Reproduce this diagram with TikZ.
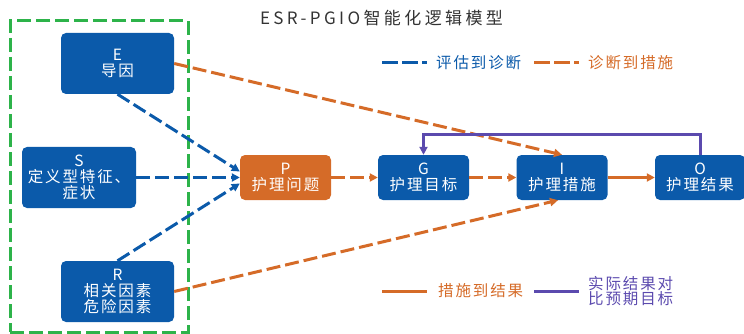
\documentclass[tikz,border=0pt]{standalone}
\usepackage{fontspec}
\setmainfont{Noto Sans CJK SC}
\newfontfamily\cjksp[LetterSpace=12]{Noto Sans CJK SC}
\newfontfamily\cjktitle[LetterSpace=20]{Noto Sans CJK SC}
\usetikzlibrary{arrows.meta}
\definecolor{cblue}{HTML}{0B5AAA}
\definecolor{corange}{HTML}{D56B28}
\definecolor{cpurple}{HTML}{5B4AAE}
\definecolor{cgreen}{HTML}{2DB34A}
\definecolor{ctitle}{HTML}{333333}
\newcommand\fntbox{\cjksp\fontsize{15.5}{16}\selectfont}
\newcommand\fntleg{\cjksp\fontsize{15.5}{15}\selectfont}
\newcommand\fnttitle{\cjktitle\fontsize{17}{20}\selectfont}
\begin{document}
\begin{tikzpicture}[x=1pt,y=-1pt,
  box/.style={rounded corners=5pt,inner sep=0pt,align=center,text=white,font=\fntbox},
  bigbox/.style={box,fill=cblue,minimum width=113pt,minimum height=61pt},
  smallbox/.style={box,fill=cblue,minimum width=91pt,minimum height=45pt},
  dline/.style={line width=3pt,dash pattern=on 14pt off 5pt},
  sline/.style={line width=3pt},
  tip/.style={-{Triangle[length=8pt,width=8pt]}},
  legtxt/.style={anchor=west,inner sep=0pt,align=left,font=\fntleg},
  legdash/.style={line width=3pt,dash pattern=on 16pt off 4pt},
]
\useasboundingbox (0,0) rectangle (744,334);
% group frame
\node[draw=cgreen,line width=3pt,dash pattern=on 14pt off 5pt,minimum width=178pt,minimum height=311pt,inner sep=0pt] (grp) at (99,176.5) {};
% title
\node[font=\fnttitle,text=ctitle,inner sep=0pt] (title) at (381.5,18) {ESR-PGIO智能化逻辑模型};
% boxes
\node[bigbox] (E) at (117.5,63.5) {E\\导因};
\node[bigbox,minimum width=114pt] (S) at (79,177.5) {S\\定义型特征、\\症状};
\node[bigbox] (R) at (117.5,291.5) {R\\相关因素\\危险因素};
\node[smallbox,fill=corange] (P) at (285.5,177.5) {P\\护理问题};
\node[smallbox] (G) at (423.5,177.5) {G\\护理目标};
\node[smallbox] (I) at (562,177.5) {I\\护理措施};
\node[smallbox,minimum width=90pt] (O) at (700,177.5) {O\\护理结果};
% connectors
\draw[dline,cblue,tip] (E.south) -- ([yshift=6pt]P.west);
\draw[dline,cblue,tip] (S.east) -- (P.west);
\draw[dline,cblue,tip] (R.north) -- ([yshift=-6pt]P.west);
\draw[dline,corange,tip] (E.east) -- (I.north);
\draw[dline,corange,tip] (R.east) -- ([xshift=-4pt]I.south);
\draw[dline,corange,tip] (P.east) -- (G.west);
\draw[dline,corange,tip] (G.east) -- (I.west);
\draw[sline,corange,tip] (I.east) -- (O.west);
\draw[sline,cpurple,tip] (O.north) -- ++(0,-20) -| (G.north);
% legend
\coordinate (l1a) at (382,63); \coordinate (l1b) at (427,63);
\draw[legdash,cblue] (l1a) -- (l1b);
\node[legtxt,text=cblue] (l1t) at (436,63) {评估到诊断};
\coordinate (l2a) at (534,63); \coordinate (l2b) at (579,63);
\draw[legdash,corange] (l2a) -- (l2b);
\node[legtxt,text=corange] (l2t) at (588,63) {诊断到措施};
\coordinate (l3a) at (382,291); \coordinate (l3b) at (427,291);
\draw[sline,corange] (l3a) -- (l3b);
\node[legtxt,text=corange] (l3t) at (438,291) {措施到结果};
\coordinate (l4a) at (534,291); \coordinate (l4b) at (579,291);
\draw[sline,cpurple] (l4a) -- (l4b);
\node[legtxt,text=cpurple] (l4t) at (588,291) {实际结果对\\比预期目标};
\end{tikzpicture}
\end{document}
